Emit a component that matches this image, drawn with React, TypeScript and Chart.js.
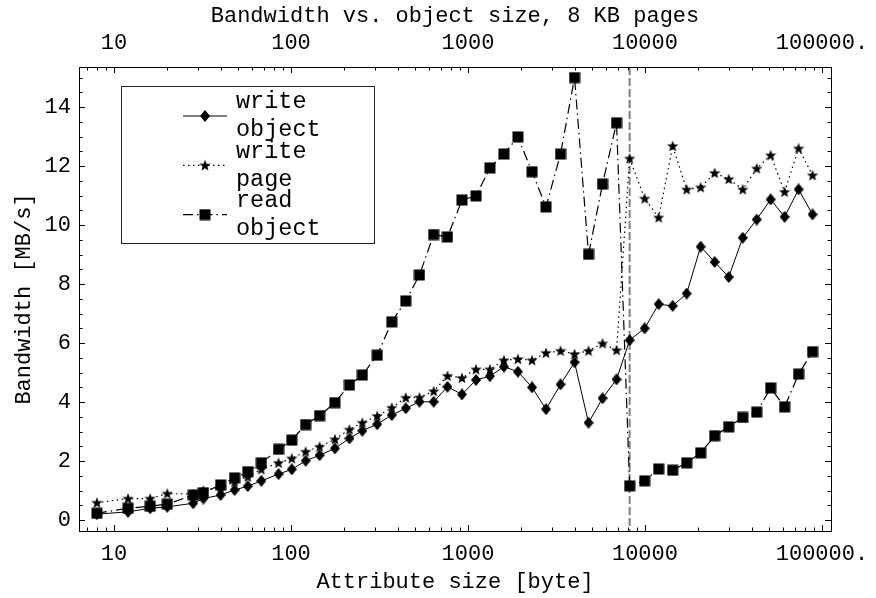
import React, { useEffect, useRef } from 'react';
import { Chart, registerables } from 'chart.js';

Chart.register(...registerables);

// ---------- data ----------
const SIZES = [
  8, 12, 16, 20, 28, 32, 40, 48, 57, 68, 85, 101, 121, 145, 177, 214, 253, 307, 371, 445,
  532, 640, 766, 925, 1110, 1330, 1596, 1915, 2300, 2760, 3333, 4000, 4798, 5758, 6909, 8192,
  9958, 11946, 14333, 17200, 20640, 24770, 29730, 35670, 42800, 51300, 61500, 73800, 88500,
];
const WRITE_OBJECT = [
  0.2, 0.28, 0.4, 0.45, 0.57, 0.73, 0.85, 1.02, 1.15, 1.33, 1.56, 1.72, 2.01, 2.2, 2.43, 2.77,
  3.03, 3.25, 3.56, 3.79, 4.01, 4.01, 4.52, 4.26, 4.75, 4.88, 5.2, 5.03, 4.5, 3.76, 4.6, 5.35,
  3.3, 4.13, 4.77, 6.1, 6.5, 7.32, 7.26, 7.68, 9.27, 8.75, 8.24, 9.57, 10.19, 10.87, 10.28, 11.21,
  10.36,
];
const WRITE_PAGE = [
  0.59, 0.73, 0.73, 0.9, 0.88, 1.0, 1.1, 1.3, 1.47, 1.72, 1.94, 2.09, 2.32, 2.49, 2.74, 3.07,
  3.3, 3.53, 3.81, 4.15, 4.16, 4.37, 4.89, 4.82, 5.11, 5.11, 5.42, 5.46, 5.42, 5.67, 5.74, 5.63,
  5.74, 5.99, 5.76, 12.26, 10.9, 10.26, 12.68, 11.21, 11.28, 11.77, 11.56, 11.21, 11.92, 12.37,
  11.13, 12.6, 11.69,
];
const READ_OBJECT = [
  0.23, 0.4, 0.47, 0.54, 0.85, 0.93, 1.19, 1.43, 1.64, 1.94, 2.4, 2.71, 3.24, 3.54, 3.98, 4.58,
  4.92, 5.59, 6.72, 7.43, 8.31, 9.68, 9.6, 10.85, 10.99, 11.94, 12.41, 12.99, 11.81, 10.62, 12.41,
  15.0, 9.01, 11.39, 13.47, 1.16, 1.33, 1.73, 1.69, 1.94, 2.28, 2.86, 3.16, 3.48, 3.66, 4.48, 3.84,
  4.95, 5.71,
];

const SERIES_LABELS = ['write object', 'write page', 'read object'];
const X_TICKS = [10, 100, 1000, 10000, 100000];
const X_TICK_LABELS = ['10', '100', '1000', '10000', '100000.'];
const Y_TICKS = [0, 2, 4, 6, 8, 10, 12, 14];
const Y_TICK_LABELS = ['0', '2', '4', '6', '8', '10', '12', '14'];
const PAGE_SIZE = 8192;
const X_MIN = 6.34;
const X_MAX = 112500;
const Y_MIN = -0.37;
const Y_MAX = 15.36;
const TITLE = 'Bandwidth vs. object size, 8 KB pages';
const X_TITLE = 'Attribute size [byte]';
const Y_TITLE = 'Bandwidth [MB/s]';

const FONT = 'Liberation Mono';

// ---------- markers ----------
function makeMarker(w: number, h: number, draw: (ctx: CanvasRenderingContext2D) => void) {
  const c = document.createElement('canvas');
  c.width = w;
  c.height = h;
  const ctx = c.getContext('2d') as CanvasRenderingContext2D;
  ctx.fillStyle = '#000';
  draw(ctx);
  return c;
}

function diamondMarker() {
  return makeMarker(10, 12, (ctx) => {
    ctx.beginPath();
    ctx.moveTo(5, 0);
    ctx.lineTo(10, 6);
    ctx.lineTo(5, 12);
    ctx.lineTo(0, 6);
    ctx.closePath();
    ctx.fill();
  });
}

function starMarker() {
  return makeMarker(12, 12, (ctx) => {
    const cx = 6, cy = 6.4, R = 6, r = 2.5;
    ctx.beginPath();
    for (let i = 0; i < 10; i++) {
      const rad = i % 2 === 0 ? R : r;
      const a = -Math.PI / 2 + (i * Math.PI) / 5;
      const px = cx + rad * Math.cos(a);
      const py = cy + rad * Math.sin(a);
      if (i === 0) ctx.moveTo(px, py);
      else ctx.lineTo(px, py);
    }
    ctx.closePath();
    ctx.fill();
  });
}

function squareMarker() {
  return makeMarker(12, 12, (ctx) => {
    ctx.fillRect(0.5, 0.5, 11, 11);
  });
}

// ---------- plugins ----------
const frameTicksPlugin = {
  id: 'frameTicks',
  beforeDatasetsDraw(chart: any) {
    const { ctx, chartArea } = chart;
    const x = chart.scales.x.getPixelForValue(PAGE_SIZE);
    ctx.save();
    ctx.strokeStyle = '#808080';
    ctx.lineWidth = 2;
    ctx.setLineDash([8, 3]);
    ctx.beginPath();
    ctx.moveTo(x, chartArea.top);
    ctx.lineTo(x, chartArea.bottom);
    ctx.stroke();
    ctx.restore();
  },
  afterDraw(chart: any) {
    const { ctx, chartArea } = chart;
    const { left, right, top, bottom } = chartArea;
    const xs = chart.scales.x;
    const ys = chart.scales.y;
    ctx.save();
    ctx.strokeStyle = '#000';
    ctx.lineWidth = 1;
    ctx.setLineDash([]);
    ctx.beginPath();
    // x ticks (log): 1..9 x 10^d
    for (let d = 0; d <= 5; d++) {
      for (let m = 1; m <= 9; m++) {
        const v = m * Math.pow(10, d);
        if (v < X_MIN || v > X_MAX) continue;
        const px = Math.round(xs.getPixelForValue(v)) + 0.5;
        const len = m === 1 ? 6 : 3.5;
        ctx.moveTo(px, bottom);
        ctx.lineTo(px, bottom - len);
        ctx.moveTo(px, top);
        ctx.lineTo(px, top + len);
      }
    }
    // y ticks every 0.5, major every 2
    for (let k = 0; k <= 30; k++) {
      const v = k * 0.5;
      if (v < Y_MIN || v > Y_MAX) continue;
      const py = Math.round(ys.getPixelForValue(v)) + 0.5;
      const len = k % 4 === 0 ? 6 : 3.5;
      ctx.moveTo(left, py);
      ctx.lineTo(left + len, py);
      ctx.moveTo(right, py);
      ctx.lineTo(right - len, py);
    }
    ctx.stroke();
    ctx.strokeRect(Math.round(left) + 0.5, Math.round(top) + 0.5, Math.round(right - left), Math.round(bottom - top));

    // legend
    const bx = left + 42;
    const by = top + 19;
    const bw = 253;
    const bh = 157;
    ctx.fillStyle = '#fff';
    ctx.fillRect(bx, by, bw, bh);
    ctx.strokeStyle = '#222';
    ctx.strokeRect(bx + 0.5, by + 0.5, bw, bh);
    const order = [0, 1, 2];
    order.forEach((di, i) => {
      const ds = chart.data.datasets[di];
      const my = by + 30 + i * 49.3;
      ctx.save();
      ctx.strokeStyle = '#000';
      ctx.lineWidth = ds.borderWidth;
      ctx.setLineDash(ds.borderDash || []);
      ctx.beginPath();
      ctx.moveTo(bx + 62, my);
      ctx.lineTo(bx + 106, my);
      ctx.stroke();
      ctx.restore();
      const img = ds.pointStyle as HTMLCanvasElement;
      ctx.drawImage(img, bx + 84 - img.width / 2, my - img.height / 2);
      const words = String(ds.label).split(' ');
      ctx.fillStyle = '#000';
      ctx.font = `23.5px "${FONT}"`;
      ctx.textAlign = 'left';
      ctx.textBaseline = 'middle';
      ctx.fillText(words[0], bx + 115, my - 14);
      ctx.fillText(words.slice(1).join(' '), bx + 115, my + 14);
    });
    ctx.restore();
  },
};

const tickFont = { family: FONT, size: 22, lineHeight: 1 };

function zeroPad(scale: any) {
  scale.paddingLeft = 0;
  scale.paddingRight = 0;
  scale.paddingTop = 0;
  scale.paddingBottom = 0;
}

export default function App() {
  const ref = useRef<HTMLCanvasElement | null>(null);

  useEffect(() => {
    if (!ref.current) return;
    const diamond = diamondMarker();
    const star = starMarker();
    const square = squareMarker();
    const toPts = (arr: number[]) => SIZES.map((s, i) => ({ x: s, y: arr[i] }));

    const chart = new Chart(ref.current, {
      type: 'line',
      data: {
        datasets: [
          {
            label: SERIES_LABELS[0],
            data: toPts(WRITE_OBJECT),
            borderColor: '#000',
            backgroundColor: '#000',
            borderWidth: 1,
            borderDash: [],
            pointStyle: diamond as any,
            pointRadius: 5,
            tension: 0,
            order: 1,
          },
          {
            label: SERIES_LABELS[1],
            data: toPts(WRITE_PAGE),
            borderColor: '#000',
            backgroundColor: '#000',
            borderWidth: 1.2,
            borderDash: [1.5, 3.5],
            pointStyle: star as any,
            pointRadius: 5,
            tension: 0,
            order: 2,
          },
          {
            label: SERIES_LABELS[2],
            data: toPts(READ_OBJECT),
            borderColor: '#000',
            backgroundColor: '#000',
            borderWidth: 1.2,
            borderDash: [10, 4, 1.5, 4],
            pointStyle: square as any,
            pointRadius: 5,
            tension: 0,
            order: 0,
          },
        ] as any,
      },
      options: {
        responsive: false,
        animation: false,
        layout: { padding: { left: 0, right: 45, top: 0, bottom: 0 } },
        plugins: {
          legend: { display: false },
          tooltip: { enabled: false },
          title: { display: false },
        },
        scales: {
          x: {
            type: 'logarithmic',
            position: 'bottom',
            min: X_MIN,
            max: X_MAX,
            grid: { display: false, drawTicks: false },
            border: { display: false },
            ticks: {
              autoSkip: false,
              maxRotation: 0,
              minRotation: 0,
              padding: 12,
              color: '#000',
              font: tickFont,
              callback: (v: any) => {
                const i = X_TICKS.indexOf(Number(v));
                return i >= 0 ? X_TICK_LABELS[i] : '';
              },
            },
            title: {
              display: true,
              text: X_TITLE,
              color: '#000',
              font: tickFont,
              padding: { top: 0, bottom: 5 },
            },
            afterBuildTicks: (s: any) => {
              s.ticks = X_TICKS.map((v) => ({ value: v }));
            },
            afterFit: (s: any) => {
              s.height = 67;
              zeroPad(s);
            },
          },
          x2: {
            type: 'logarithmic',
            position: 'top',
            min: X_MIN,
            max: X_MAX,
            grid: { display: false, drawTicks: false },
            border: { display: false },
            ticks: {
              autoSkip: false,
              maxRotation: 0,
              minRotation: 0,
              padding: 13,
              color: '#000',
              font: tickFont,
              callback: (v: any) => {
                const i = X_TICKS.indexOf(Number(v));
                return i >= 0 ? X_TICK_LABELS[i] : '';
              },
            },
            title: {
              display: true,
              text: TITLE,
              color: '#000',
              font: tickFont,
              padding: { top: 5, bottom: 0 },
            },
            afterBuildTicks: (s: any) => {
              s.ticks = X_TICKS.map((v) => ({ value: v }));
            },
            afterFit: (s: any) => {
              s.height = 67;
              zeroPad(s);
            },
          },
          y: {
            type: 'linear',
            position: 'left',
            min: Y_MIN,
            max: Y_MAX,
            grid: { display: false, drawTicks: false },
            border: { display: false },
            ticks: {
              padding: 8,
              color: '#000',
              font: tickFont,
              callback: (v: any) => {
                const i = Y_TICKS.indexOf(Number(v));
                return i >= 0 ? Y_TICK_LABELS[i] : '';
              },
            },
            title: {
              display: true,
              text: Y_TITLE,
              color: '#000',
              font: tickFont,
              padding: { top: 13, bottom: 0 },
            },
            afterBuildTicks: (s: any) => {
              s.ticks = Y_TICKS.map((v) => ({ value: v }));
            },
            afterFit: (s: any) => {
              s.width = 79;
              zeroPad(s);
            },
          },
        },
      } as any,
      plugins: [frameTicksPlugin],
    });
    return () => chart.destroy();
  }, []);

  return (
    <div style={{ position: 'absolute', left: 0, top: 0, width: 876, height: 598, background: '#fff' }}>
      <canvas ref={ref} width={876} height={598} style={{ display: 'block' }} />
    </div>
  );
}
